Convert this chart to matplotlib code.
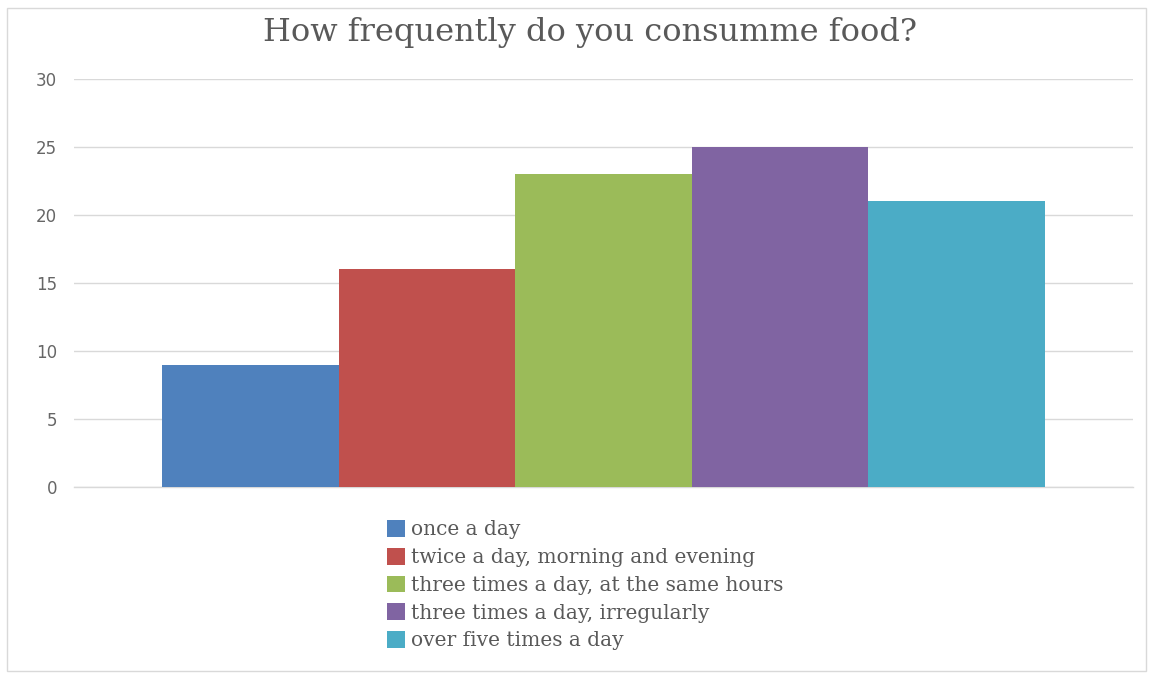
import matplotlib.pyplot as plt
from matplotlib.patches import Rectangle

labels = ["once a day", "twice a day, morning and evening",
          "three times a day, at the same hours", "three times a day, irregularly",
          "over five times a day"]
values = [9, 16, 23, 25, 21]
colors = ["#4F81BD", "#C0504D", "#9BBB59", "#8064A2", "#4BACC6"]

fig = plt.figure(figsize=(11.52, 6.75), dpi=100)
ax = fig.add_axes([0.0642, 0.2785, 0.9193, 0.6045])

n = len(values)
for i, (lab, v, c) in enumerate(zip(labels, values, colors)):
    ax.bar(i - (n - 1) / 2, v, width=1.0, color=c, label=lab, zorder=3)

ax.set_xlim(-3, 3)
ax.set_ylim(0, 30)
ax.set_yticks(range(0, 31, 5))
ax.set_xticks([])
ax.grid(axis="y", color="#D9D9D9", linewidth=1.0, zorder=0)
ax.axhline(0, color="#D9D9D9", linewidth=1.0, zorder=0, clip_on=False)
for s in ax.spines.values():
    s.set_visible(False)
ax.tick_params(axis="y", length=0, pad=12, labelsize=12, labelcolor="#666666")

fig.text(0.512, 0.952, "How frequently do you consumme food?", ha="center", va="center",
         fontsize=23, color="#595959", family="DejaVu Serif")

fig.legend(loc="upper left", bbox_to_anchor=(0.336, 0.2295), frameon=False,
           handlelength=0.9, handleheight=0.9, handletextpad=0.3, labelspacing=0.42,
           prop={"family": "DejaVu Serif", "size": 14.5}, labelcolor="#595959",
           borderaxespad=0, borderpad=0)

fig.patches.append(Rectangle((0.006, 0.006), 0.989, 0.982, transform=fig.transFigure,
                             fill=False, edgecolor="#D9D9D9", linewidth=1))

fig.savefig("out.png", dpi=100)
